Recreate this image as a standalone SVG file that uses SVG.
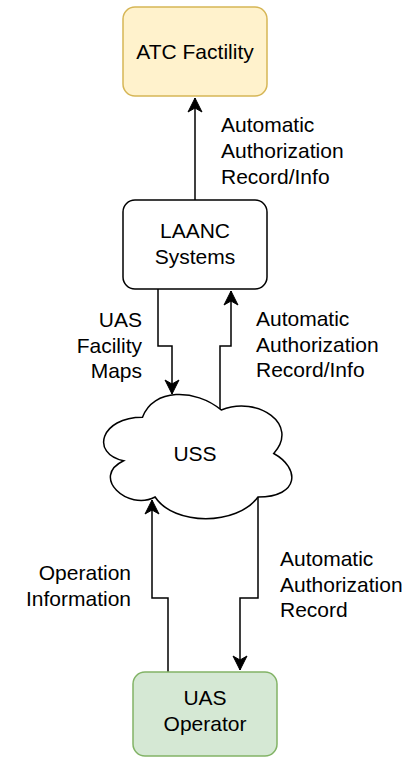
<svg xmlns="http://www.w3.org/2000/svg" width="410" height="758" viewBox="0 0 410 758">
<style>
text{font-family:"Liberation Sans",Arial,Helvetica,sans-serif;font-size:21px;fill:#000}
.c{text-anchor:middle}
.r{text-anchor:end}
.e{fill:none;stroke:#000;stroke-width:1.5}
</style>
<defs>
<marker id="ah" markerUnits="userSpaceOnUse" viewBox="-15 -8 16 16" refX="0" refY="0" markerWidth="16" markerHeight="16" orient="auto">
<path d="M0,0 L-14,-7 L-10,0 L-14,7 Z" fill="#000" stroke="#000" stroke-width="1"/>
</marker>
</defs>
<rect width="410" height="758" fill="#fff"/>
<g id="edges">
<path class="e" d="M195,200 V98" marker-end="url(#ah)"/>
<path class="e" d="M158,289 V346 H172 V394" marker-end="url(#ah)"/>
<path class="e" d="M220,409 V346 H231 V291" marker-end="url(#ah)"/>
<path class="e" d="M168,672 V598 H152 V500" marker-end="url(#ah)"/>
<path class="e" d="M258,497 V598 H240 V670" marker-end="url(#ah)"/>
</g>
<g id="atc">
<rect x="123" y="7" width="144" height="89" rx="12" fill="#fff2cc" stroke="#d6b656" stroke-width="1.5"/>
<text class="c" x="195" y="59">ATC Factility</text>
</g>
<g id="laanc">
<rect x="123" y="200" width="144" height="89" rx="12" fill="#fff" stroke="#000" stroke-width="1.5"/>
<text class="c" x="195" y="238">LAANC</text>
<text class="c" x="195" y="264">Systems</text>
</g>
<g id="uss">
<path d="M142.5,417.25 C100.5,417.25 90,453.5 123.6,460.75 C90,476.7 127.8,511.5 155.1,497 C174,526 237,526 258,497 C300,497 300,468 273.75,453.5 C300,424.5 258,395.5 221.25,410 C195,388.25 153,388.25 142.5,417.25 Z" fill="#fff" stroke="#000" stroke-width="1.5"/>
<text class="c" x="195" y="461">USS</text>
</g>
<g id="operator">
<rect x="133" y="672" width="144" height="84" rx="12" fill="#d5e8d4" stroke="#82b366" stroke-width="1.5"/>
<text class="c" x="205" y="705">UAS</text>
<text class="c" x="205" y="731">Operator</text>
</g>
<g id="labels">
<text x="221" y="132">Automatic</text>
<text x="221" y="158">Authorization</text>
<text x="221" y="184">Record/Info</text>
<text class="r" x="142" y="327">UAS</text>
<text class="r" x="142" y="353">Facility</text>
<text class="r" x="142" y="378">Maps</text>
<text x="256" y="326">Automatic</text>
<text x="256" y="352">Authorization</text>
<text x="256" y="377">Record/Info</text>
<text class="r" x="131" y="580">Operation</text>
<text class="r" x="131" y="606">Information</text>
<text x="280" y="566">Automatic</text>
<text x="280" y="592">Authorization</text>
<text x="280" y="617">Record</text>
</g>
</svg>
